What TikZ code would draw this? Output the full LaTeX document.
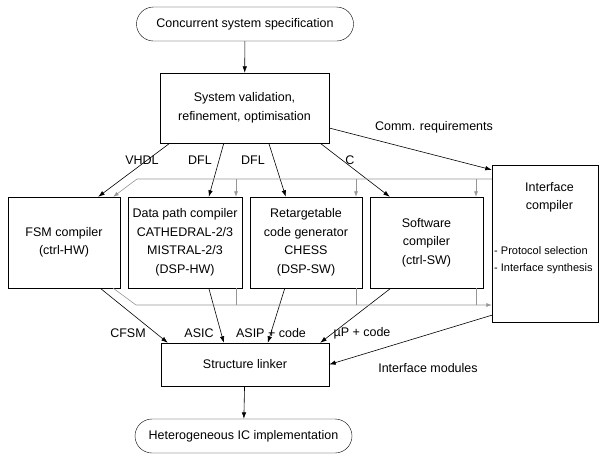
\documentclass[tikz,border=0pt]{standalone}
\usepackage{fontspec}
\setmainfont{Liberation Sans}
\usepackage{xcolor}
\definecolor{busgray}{RGB}{150,150,150}
\usepackage{tikz}
\usetikzlibrary{arrows.meta}

\begin{document}
\begin{tikzpicture}[x=1pt,y=-1pt,
term/.style={draw,rounded corners=17pt,minimum width=217pt,minimum height=34pt,font=\fontsize{12.5}{15}\selectfont},
proc/.style={draw,align=center,inner sep=0pt,font=\fontsize{12.5}{18.5}\selectfont},
flow/.style={-{Latex[length=6.5pt,width=4.5pt]},semithick},
bus/.style={draw=busgray,semithick},
busarrow/.style={bus,-{Latex[length=5.5pt,width=4pt]}},
lab/.style={font=\fontsize{12.5}{15}\selectfont,inner sep=1pt}]
\useasboundingbox (0,0) rectangle (603,456);
\node[term] (spec) at (245,24) {Concurrent system specification};
\node[proc,minimum width=169pt,minimum height=70pt] (sysval) at (244.5,108) {System validation,\\refinement, optimisation};
\node[proc,minimum width=112pt,minimum height=91pt] (fsm) at (64,242.5) {FSM compiler\\(ctrl-HW)};
\node[proc,minimum width=114pt,minimum height=91pt] (dpc) at (185,242.5) {Data path compiler\\CATHEDRAL-2/3\\MISTRAL-2/3\\(DSP-HW)};
\node[proc,minimum width=112pt,minimum height=91pt] (rcg) at (306,242.5) {Retargetable\\code generator\\CHESS\\(DSP-SW)};
\node[proc,minimum width=113pt,minimum height=91pt] (swc) at (426.5,242.5) {Software\\compiler\\(ctrl-SW)};
\node[draw,minimum width=106pt,minimum height=157pt] (ifc) at (545,243.5) {};
\node[proc,draw=none,font=\fontsize{12.5}{18}\selectfont] (ifctitle) at (549.5,197) {Interface\\compiler};
\node[proc,draw=none,align=left,anchor=west,font=\fontsize{11}{17}\selectfont] (ifctasks) at (494,260.5) {- Protocol selection\\- Interface synthesis};
\node[proc,minimum width=168pt,minimum height=43pt] (linker) at (245,364.5) {Structure linker};
\node[term] (impl) at (243.5,436) {Heterogeneous IC implementation};
% control and data flow
\draw[flow] (spec)--(sysval);
\draw[flow] ([xshift=10pt]sysval.south west)--([xshift=-22pt]fsm.north east);
\draw[flow] ([xshift=64pt]sysval.south west)--([xshift=81pt]dpc.north west);
\draw[flow] ([xshift=109pt]sysval.south west)--([xshift=36pt]rcg.north west);
\draw[flow] ([xshift=-9pt]sysval.south east)--([xshift=20pt]swc.north west);
\draw[flow] ([yshift=-20pt]sysval.east)--([yshift=-5pt]ifc.north west);
\draw[flow] ([xshift=-20pt]fsm.south east)--([xshift=7pt]linker.north west);
\draw[flow] ([xshift=81pt]dpc.south west)--([xshift=63pt]linker.north west);
\draw[flow] ([xshift=35pt]rcg.south west)--([xshift=107pt]linker.north west);
\draw[flow] ([xshift=21pt]swc.south west)--([xshift=-9pt]linker.north east);
\draw[flow] ([yshift=7pt]ifc.south west)--(linker.east);
\draw[flow] (linker)--(impl);
% interface bus
\coordinate (tl) at (137,179);
\coordinate (bl) at (136,305);
\coordinate (t2) at (236,179); \coordinate (t3) at (356,179); \coordinate (t4) at (476,179);
\coordinate (b2) at (236,305); \coordinate (b3) at (356,305); \coordinate (b4) at (476,305);
\draw[busarrow] (tl -| ifc.west)--(tl)--([xshift=-7pt]fsm.north east);
\draw[busarrow] (t2)--(t2 |- dpc.north);
\draw[busarrow] (t3)--(t3 |- rcg.north);
\draw[busarrow] (t4)--(t4 |- swc.north);
\draw[busarrow] ([xshift=-7pt]fsm.south east)--(bl)--(bl -| ifc.west);
\draw[bus] (b2 |- dpc.south)--(b2);
\draw[bus] (b3 |- rcg.south)--(b3);
\draw[bus] (b4 |- swc.south)--(b4);
% labels
\node[lab] (lvhdl) at (142,160) {VHDL};
\node[lab] (ldfla) at (200,160) {DFL};
\node[lab] (ldflb) at (253,160) {DFL};
\node[lab] (lc) at (350,160) {C};
\node[lab] (lcomm) at (434,127) {Comm. requirements};
\node[lab] (lcfsm) at (128,333) {CFSM};
\node[lab] (lasic) at (199,333) {ASIC};
\node[lab] (lasip) at (271,333) {ASIP + code};
\node[lab] (lup) at (362,333) {µP + code};
\node[lab] (lmod) at (428,368) {Interface modules};
\end{tikzpicture}
\end{document}
